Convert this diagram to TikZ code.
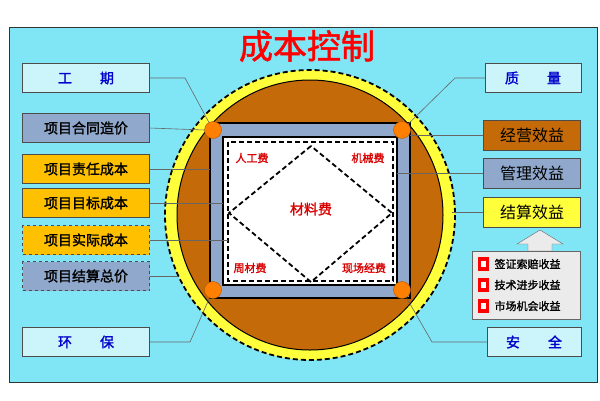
\documentclass[tikz,border=0pt]{standalone}
\usepackage{fontspec}
\newfontfamily\cjk{Noto Sans CJK SC}
\newfontfamily\cjkb{Noto Sans CJK SC}[FakeBold=1.5]
\definecolor{panel}{HTML}{80E6F6}
\definecolor{bgrey}{HTML}{8FA8CC}
\definecolor{gold}{HTML}{FFC000}
\definecolor{brownc}{HTML}{C46A08}
\definecolor{lyel}{HTML}{FFFF3C}
\begin{document}
\begin{tikzpicture}[x=1pt,y=-1pt,
 box/.style={draw=black!70,minimum width=127pt,minimum height=29pt,font=\cjkb\fontsize{14}{14}\selectfont,inner sep=0pt},
 tbox/.style={box,fill=panel!40,text=blue!80!black,font=\cjkb\fontsize{14}{14}\selectfont},
 rbox/.style={box,minimum width=97pt,minimum height=30pt,font=\cjk\fontsize{16}{16}\selectfont},
 lab/.style={text=red!85!black,font=\cjkb\fontsize{11}{11}\selectfont},
 dsh/.style={dash pattern=on 5pt off 3pt,line width=1.8pt},
 conn/.style={draw=black!60,line width=0.6pt},
 dot/.style={circle,fill=orange,draw=orange!70!black,minimum size=17pt,inner sep=0pt}]
\useasboundingbox (0,0) rectangle (600,400);
\fill[white] (0,0) rectangle (600,400);
\draw[fill=panel,draw=black!80,line width=0.8pt] (9,27) rectangle (597,382);
\node[text=red,font=\cjkb\fontsize{34}{34}\selectfont] (title) at (307,46) {成本控制};
% circles
\fill[lyel] (310,215) circle (145);
\draw[dsh] (310,215) circle (145);
\draw[fill=brownc,line width=1pt] (310,215) ellipse (133 and 135);
% frame
\draw[fill=bgrey,line width=1.5pt] (210,123) rectangle (410,298);
\draw[fill=white,line width=1.5pt] (223,137) rectangle (397,285);
\draw[dsh] (228,142) rectangle (393,281);
\draw[dsh] (311,146) -- (229,213) -- (311,282) -- (392,213) -- cycle;
\node[lab] (l1) at (252,158) {人工费};
\node[lab] (l2) at (368,158) {机械费};
\node[lab,font=\cjkb\fontsize{14}{14}\selectfont] (l3) at (311,209) {材料费};
\node[lab] (l4) at (250,268) {周材费};
\node[lab] (l5) at (364,268) {现场经费};
\node[dot] (c1) at (213,130) {};
\node[dot] (c2) at (402,130) {};
\node[dot] (c3) at (213,290) {};
\node[dot] (c4) at (402,290) {};
% left boxes
\node[tbox] (gq) at (86,78) {工\hspace{2em}期};
\node[box,fill=bgrey] (b1) at (86,128) {项目合同造价};
\node[box,fill=gold] (b2) at (86,169) {项目责任成本};
\node[box,fill=gold] (b3) at (86,203) {项目目标成本};
\node[box,fill=gold,dashed] (b4) at (86,240) {项目实际成本};
\node[box,fill=bgrey,dashed] (b5) at (86,276) {项目结算总价};
\node[tbox] (hb) at (86,342) {环\hspace{2em}保};
% right boxes
\node[tbox,minimum width=96pt] (zl) at (533,78) {质\hspace{2em}量};
\node[rbox,fill=brownc] (r1) at (532,135) {经营效益};
\node[rbox,fill=bgrey] (r2) at (532,173) {管理效益};
\node[rbox,fill=lyel] (r3) at (532,212) {结算效益};
\node[tbox,minimum width=94pt] (aq) at (534,342) {安\hspace{2em}全};
\draw[fill=black!8,draw=black!60] (540,230) -- (563,244) -- (552,244) -- (552,251) -- (528,251) -- (528,244) -- (517,244) -- cycle;
\node[draw=black!60,fill=black!8,minimum width=108pt,minimum height=68pt] (gb) at (526,285) {};
\foreach \y/\t in {264/签证索赔收益,285/技术进步收益,306/市场机会收益}{
 \fill[red] (478,\y-7) rectangle (489,\y+7);
 \fill[white] (481,\y-3) rectangle (486,\y+3);
 \node[font=\cjkb\fontsize{11}{11}\selectfont,anchor=west] at (491,\y) {\t};}
% connectors
\draw[conn] (gq.east) -- (185,78) -- (c1);
\draw[conn] (zl.west) -- (455,78) -- (c2);
\draw[conn] (hb.east) -- (190,342) -- (c3);
\draw[conn] (aq.west) -- (432,342) -- (c4);
\draw[conn] (b1.east) -- (c1.west);
\draw[conn] (b2.east) -- (210,169);
\draw[conn] (b3.east) -- (223,203);
\draw[conn] (b4.east) -- (228,240);
\draw[conn] (b5.east) -- (178,276);
\draw[conn] (r1.west) -- (410,135);
\draw[conn] (r2.west) -- (397,173);
\draw[conn] (r3.west) -- (452,212);
\end{tikzpicture}
\end{document}
